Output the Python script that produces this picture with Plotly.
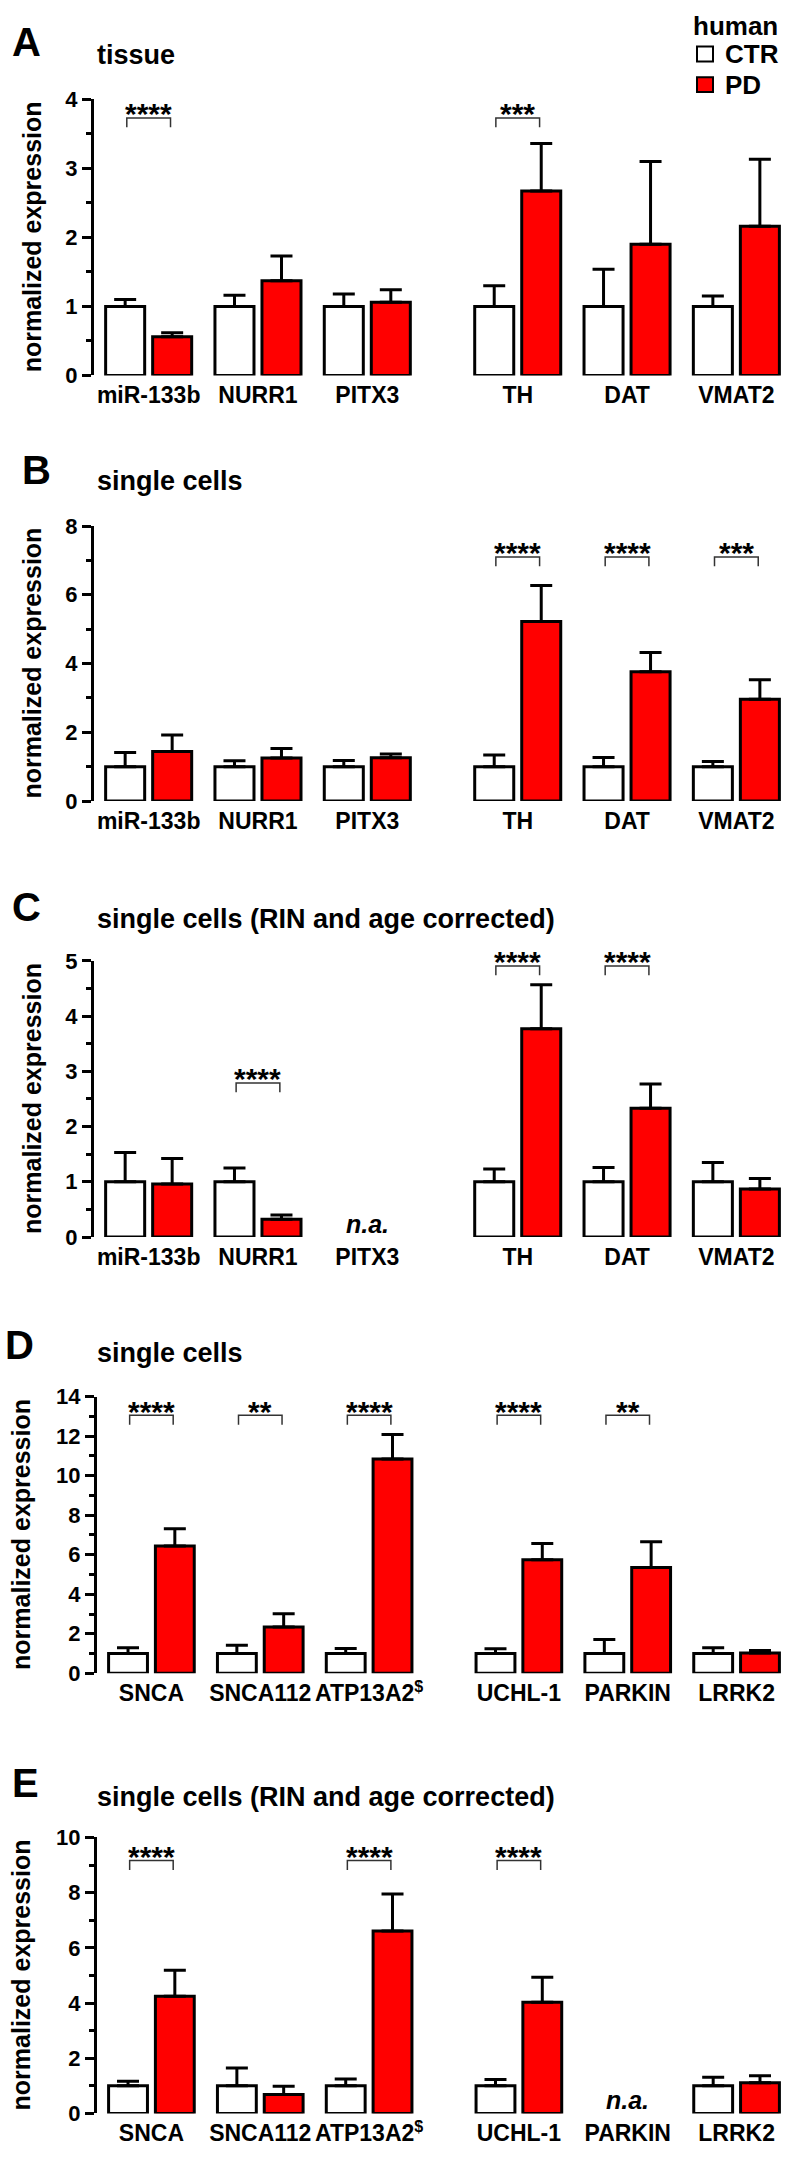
import plotly.graph_objects as go

FONT = "Liberation Sans, Arial, sans-serif"
W, H = 786, 2167

# ---------------- data ----------------
cats_abc = ["miR-133b", "NURR1", "PITX3", "TH", "DAT", "VMAT2"]
cats_de = ["SNCA", "SNCA112", "ATP13A2<sup>$</sup>", "UCHL-1", "PARKIN", "LRRK2"]

a_ctr = [1, 1, 1, 1, 1, 1]
a_ctr_sem = [0.10, 0.16, 0.18, 0.30, 0.54, 0.15]
a_pd = [0.56, 1.37, 1.06, 2.67, 1.90, 2.16]
a_pd_sem = [0.06, 0.36, 0.18, 0.69, 1.20, 0.97]
a_sig = ["****", "", "", "***", "", ""]

b_ctr = [1, 1, 1, 1, 1, 1]
b_ctr_sem = [0.41, 0.17, 0.18, 0.34, 0.27, 0.15]
b_pd = [1.44, 1.25, 1.26, 5.22, 3.76, 2.96]
b_pd_sem = [0.48, 0.28, 0.11, 1.05, 0.56, 0.57]
b_sig = ["", "", "", "****", "****", "***"]

c_ctr = [1, 1, None, 1, 1, 1]
c_ctr_sem = [0.53, 0.25, None, 0.23, 0.26, 0.35]
c_pd = [0.96, 0.32, None, 3.77, 2.33, 0.87]
c_pd_sem = [0.46, 0.08, None, 0.80, 0.44, 0.19]
c_sig = ["", "****", "", "****", "****", ""]

d_ctr = [1, 1, 1, 1, 1, 1]
d_ctr_sem = [0.29, 0.42, 0.25, 0.24, 0.71, 0.29]
d_pd = [6.44, 2.34, 10.84, 5.74, 5.35, 1.03]
d_pd_sem = [0.87, 0.67, 1.24, 0.82, 1.31, 0.13]
d_sig = ["****", "**", "****", "****", "**", ""]

e_ctr = [1, 1, 1, 1, None, 1]
e_ctr_sem = [0.17, 0.65, 0.25, 0.23, None, 0.31]
e_pd = [4.25, 0.69, 6.61, 4.03, None, 1.11]
e_pd_sem = [0.94, 0.30, 1.34, 0.90, None, 0.26]
e_sig = ["****", "", "****", "****", "", ""]

legend_title = "human"
group_names = ["CTR", "PD"]

# ---------------- layout config (pixels) ----------------
panels = [
    dict(letter="A", title="tissue", cats=cats_abc, ctr=a_ctr, ctr_sem=a_ctr_sem,
         pd=a_pd, pd_sem=a_pd_sem, sig=a_sig, ymax=4, dtick=1, minor=0.5,
         top=88.3, zero=367.7, axl=94, letter_xy=(10, 30), title_base=53, ytx=32,
         bracket={0: 3.73, 3: 3.73}),
    dict(letter="B", title="single cells", cats=cats_abc, ctr=b_ctr, ctr_sem=b_ctr_sem,
         pd=b_pd, pd_sem=b_pd_sem, sig=b_sig, ymax=8, dtick=2, minor=1,
         top=520, zero=798.3, axl=94, letter_xy=(20, 463.5), title_base=484, ytx=32,
         bracket={3: 7.1, 4: 7.1, 5: 7.1}),
    dict(letter="C", title="single cells (RIN and age corrected)", cats=cats_abc, ctr=c_ctr,
         ctr_sem=c_ctr_sem, pd=c_pd, pd_sem=c_pd_sem, sig=c_sig, ymax=5, dtick=1, minor=0.5,
         top=960, zero=1239.3, axl=94, letter_xy=(10, 905), title_base=927, ytx=32,
         bracket={1: 2.79, 3: 4.91, 4: 4.91}),
    dict(letter="D", title="single cells", cats=cats_de, ctr=d_ctr, ctr_sem=d_ctr_sem,
         pd=d_pd, pd_sem=d_pd_sem, sig=d_sig, ymax=14, dtick=2, minor=1,
         top=1400.7, zero=1680.7, axl=97, letter_xy=(3, 1348.5), title_base=1366, ytx=21,
         bracket={0: 13.05, 1: 13.05, 2: 13.05, 3: 13.05, 4: 13.05}),
    dict(letter="E", title="single cells (RIN and age corrected)", cats=cats_de, ctr=e_ctr,
         ctr_sem=e_ctr_sem, pd=e_pd, pd_sem=e_pd_sem, sig=e_sig, ymax=10, dtick=2, minor=1,
         top=1846.7, zero=2126, axl=97, letter_xy=(10, 1791.7), title_base=1815, ytx=21,
         bracket={0: 9.16, 2: 9.16, 3: 9.16}),
]

GAP = 0.376      # extra gap between 3rd and 4th group
OFF = 0.215      # bar offset from group center
BW = 0.357       # bar width (data units)
XR = [-0.5, 5.83]


def px_x(px):
    return px / W


def px_y(py):
    return 1 - py / H


fig = go.Figure()
shapes = []
annotations = []

for p, P in enumerate(panels):
    sfx = "" if p == 0 else str(p + 1)
    xa, ya = "x" + sfx, "y" + sfx
    xs = [i + (GAP if i >= 3 else 0) for i in range(len(P["cats"]))]

    for vals, sems, color, dx in ((P["ctr"], P["ctr_sem"], "white", -OFF),
                                  (P["pd"], P["pd_sem"], "#ff0000", OFF)):
        fig.add_trace(go.Bar(
            x=[x + dx for x in xs], y=vals, width=BW,
            marker=dict(color=color, line=dict(color="black", width=3)),
            error_y=dict(type="data", symmetric=False,
                         array=[s if s is not None else 0 for s in sems],
                         arrayminus=[0] * len(sems),
                         color="black", thickness=3, width=11),
            xaxis=xa, yaxis=ya, cliponaxis=False, showlegend=False, hoverinfo="skip"))

    plot_h = P["zero"] - P["top"]
    ppu = plot_h / P["ymax"]   # pixels per unit

    fig.layout["xaxis" + sfx] = dict(
        domain=[px_x(P["axl"]), 1], range=XR, anchor=ya,
        tickvals=xs, ticktext=P["cats"], ticks="", showline=False, showgrid=False,
        zeroline=False, fixedrange=True, ticklabelstandoff=4,
        tickfont=dict(family=FONT, size=23, color="black", weight="bold"))
    fig.layout["yaxis" + sfx] = dict(
        domain=[px_y(P["zero"]), px_y(P["top"])], range=[0, P["ymax"]], anchor=xa,
        showline=True, linewidth=3, linecolor="black", ticks="outside", ticklen=9,
        tickwidth=3, tickcolor="black", tick0=0, dtick=P["dtick"], showgrid=False,
        zeroline=False, fixedrange=True,
        minor=dict(dtick=P["minor"], ticklen=5, tickwidth=3, tickcolor="black",
                   ticks="outside", showgrid=False),
        tickfont=dict(family=FONT, size=22, color="black", weight="bold"))

    # significance brackets
    for i, s in enumerate(P["sig"]):
        if not s:
            continue
        yt = P["bracket"][i]
        yl = yt - 9.5 / ppu
        x1, x2 = xs[i] - 0.2, xs[i] + 0.2
        shapes.append(dict(type="path", xref=xa, yref=ya,
                           path=f"M {x1},{yl} L {x1},{yt} L {x2},{yt} L {x2},{yl}",
                           line=dict(color="#333333", width=1.5)))
        annotations.append(dict(xref=xa, yref=ya, x=xs[i], y=yt, text=s, showarrow=False,
                                yanchor="middle", xanchor="center", yshift=4,
                                font=dict(family=FONT, size=30, color="black", weight="bold")))

    # n.a. markers
    for i, v in enumerate(P["ctr"]):
        if v is None:
            annotations.append(dict(xref=xa, yref=ya, x=xs[i], y=0, text="<i>n.a.</i>",
                                    showarrow=False, yanchor="middle", yshift=13,
                                    font=dict(family=FONT, size=25, color="black", weight="bold")))

    # panel letter, title, y title
    lx, ly = P["letter_xy"]
    annotations.append(dict(xref="paper", yref="paper", x=px_x(lx), y=px_y(ly), text=P["letter"],
                            showarrow=False, xanchor="left", yanchor="middle",
                            font=dict(family=FONT, size=40, color="black", weight="bold")))
    annotations.append(dict(xref="paper", yref="paper", x=px_x(95), y=px_y(P["title_base"] - 9.5),
                            text=P["title"], showarrow=False, xanchor="left", yanchor="middle",
                            font=dict(family=FONT, size=27, color="black", weight="bold")))
    annotations.append(dict(xref="paper", yref="paper", x=px_x(P["ytx"]),
                            y=px_y((P["top"] + P["zero"]) / 2), text="normalized expression",
                            textangle=-90, showarrow=False, xanchor="center", yanchor="middle",
                            font=dict(family=FONT, size=25, color="black", weight="bold")))

# manual legend
annotations.append(dict(xref="paper", yref="paper", x=px_x(691), y=px_y(14), text=legend_title,
                        showarrow=False, xanchor="left", yanchor="middle",
                        font=dict(family=FONT, size=26, color="black", weight="bold")))
for k, (name, col, cy) in enumerate(zip(group_names, ["white", "#ff0000"], [42.5, 73.5])):
    shapes.append(dict(type="rect", xref="paper", yref="paper",
                       x0=px_x(697), x1=px_x(713), y0=px_y(cy + 7.5), y1=px_y(cy - 7.5),
                       fillcolor=col, line=dict(color="black", width=2)))
    annotations.append(dict(xref="paper", yref="paper", x=px_x(723), y=px_y(cy), text=name,
                            showarrow=False, xanchor="left", yanchor="middle",
                            font=dict(family=FONT, size=26, color="black", weight="bold")))

fig.update_layout(width=W, height=H, margin=dict(l=0, r=0, t=0, b=0),
                  paper_bgcolor="white", plot_bgcolor="white", showlegend=False,
                  bargap=0, shapes=shapes, annotations=annotations,
                  font=dict(family=FONT, color="black"))

# remove the default page margin so the figure fills the window exactly
fig.write_html("out.html",
               config={"displayModeBar": False, "staticPlot": True},
               post_script="document.body.style.margin='0';"
                           "document.body.style.overflow='hidden';")
